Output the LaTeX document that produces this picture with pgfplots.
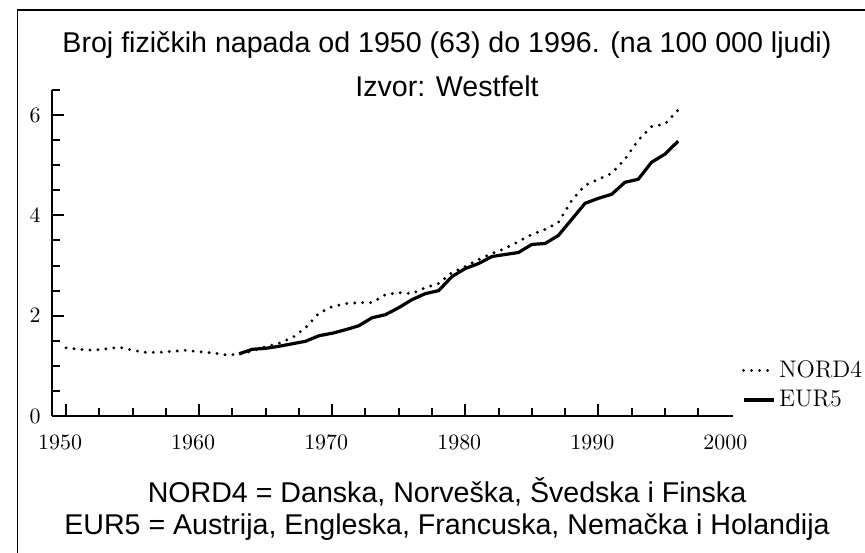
\documentclass[border=0pt]{standalone}
\usepackage{fontspec}
\newfontfamily\arial{Liberation Sans}
\usepackage{pgfplots}
\pgfplotsset{compat=1.18}
\begin{document}
\begin{tikzpicture}[x=1pt,y=1pt]
\useasboundingbox (0,0) rectangle (432.5,276);
\draw[line width=0.7pt] (8.85,-2) -- (8.85,271) -- (440,271);
\begin{axis}[
  at={(25.85pt,68pt)}, anchor=south west,
  scale only axis, width=340.5pt, height=163pt,
  xmin=1948.92, xmax=2000.1, ymin=0, ymax=6.5,
  axis x line=bottom, axis y line=left,
  axis line style={-, line width=1.1pt},
  tick align=inside,
  xtick={1950,1960,1970,1980,1990},
  minor xtick={1952.5,1955,1957.5,1962.5,1965,1967.5,1972.5,1975,1977.5,1982.5,1985,1987.5,1992.5,1995,1997.5},
  extra x ticks={2000},
  extra x tick style={major tick length=0pt},
  ytick={0,2,4,6},
  minor ytick={0.5,1,1.5,2.5,3,3.5,4.5,5,5.5,6.5},
  major tick length=6pt, minor tick length=4pt,
  every tick/.style={black, line width=1pt},
  /pgf/number format/1000 sep={},
  xticklabel style={font=\fontsize{10.5}{12}\selectfont, xshift=-3pt, yshift=-6pt},
  yticklabel style={font=\fontsize{10.5}{12}\selectfont, xshift=-2pt},
  clip=false,
  legend style={at={(1.01,0.19)}, anchor=north west, draw=none, fill=none,
    font=\fontsize{12}{13}\selectfont, row sep=1pt, inner sep=1pt},
  legend image code/.code={\draw[#1] (0pt,0pt) -- (15pt,0pt);},
  legend cell align=left,
]
\addplot[black, line width=1.6pt, line cap=round, dash pattern=on 0pt off 4pt] coordinates {
(1950,1.36) (1951,1.33) (1952,1.31) (1953,1.34) (1954,1.37) (1955,1.31)
(1956,1.27) (1957,1.27) (1958,1.29) (1959,1.31) (1960,1.28) (1961,1.26)
(1962,1.22) (1963,1.23) (1964,1.30) (1965,1.38) (1966,1.45) (1967,1.56)
(1968,1.76) (1969,2.05) (1970,2.18) (1971,2.24) (1972,2.26) (1973,2.26)
(1974,2.42) (1975,2.46) (1976,2.44) (1977,2.56) (1978,2.64) (1979,2.86)
(1980,2.98) (1981,3.12) (1982,3.24) (1983,3.34) (1984,3.48) (1985,3.62)
(1986,3.72) (1987,3.86) (1988,4.30) (1989,4.60) (1990,4.72) (1991,4.84)
(1992,5.12) (1993,5.50) (1994,5.77) (1995,5.82) (1996,6.10)};
\addlegendentry{NORD4}
\addplot[black, line width=1.6pt, line join=round] coordinates {
(1963,1.24) (1964,1.33) (1965,1.35) (1966,1.39) (1967,1.44) (1968,1.49)
(1969,1.60) (1970,1.65) (1971,1.72) (1972,1.80) (1973,1.96) (1974,2.02)
(1975,2.16) (1976,2.32) (1977,2.44) (1978,2.50) (1979,2.78) (1980,2.94)
(1981,3.04) (1982,3.18) (1983,3.22) (1984,3.26) (1985,3.42) (1986,3.44)
(1987,3.60) (1988,3.92) (1989,4.24) (1990,4.34) (1991,4.42) (1992,4.66)
(1993,4.72) (1994,5.06) (1995,5.22) (1996,5.48)};
\addlegendentry{EUR5}
\end{axis}
\node[anchor=base, inner sep=0pt, font=\arial\fontsize{14.3}{16}\selectfont] at (223.5,249.5) {Broj fizičkih napada od 1950 (63) do 1996. (na 100 000 ljudi)};
\node[anchor=base, inner sep=0pt, font=\arial\fontsize{14.3}{16}\selectfont] at (223.5,227.5) {Izvor: Westfelt};
\node[anchor=base, inner sep=0pt, font=\arial\fontsize{14.3}{16}\selectfont] at (223.5,25) {NORD4 = Danska, Norveška, Švedska i Finska};
\node[anchor=base, inner sep=0pt, font=\arial\fontsize{14.3}{16}\selectfont] at (223.5,9) {EUR5 = Austrija, Engleska, Francuska, Nemačka i Holandija};
\end{tikzpicture}
\end{document}
